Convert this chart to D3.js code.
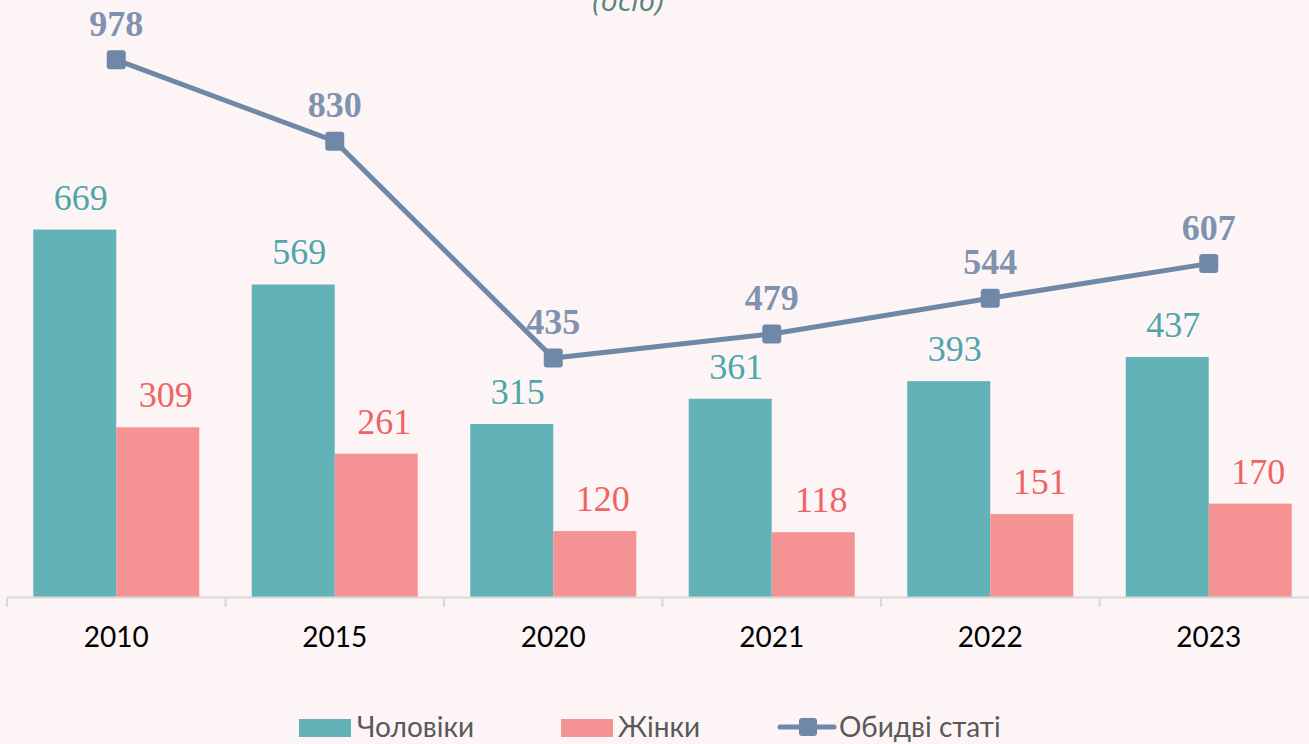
<!DOCTYPE html>
<html>
<head>
<meta charset="utf-8">
<script src="https://cdn.jsdelivr.net/npm/d3@7"></script>
<style>
  html, body { margin: 0; padding: 0; background: #fdf5f5; overflow: hidden; }
</style>
</head>
<body>
<div id="chart"></div>
<script>
// Data
var years = ["2010", "2015", "2020", "2021", "2022", "2023"];
var men = [669, 569, 315, 361, 393, 437];
var women = [309, 261, 120, 118, 151, 170];
var total = [978, 830, 435, 479, 544, 607];
var seriesNames = ["Чоловіки", "Жінки", "Обидві статі"];

var width = 1309, height = 744;
var baseY = 597;

var svg = d3.select("#chart")
  .append("svg")
    .attr("width", width)
    .attr("height", height)
    .style("background", "#fdf5f5");

// Scales
var x = d3.scaleBand()
  .domain(years)
  .range([7, 1318])
  .padding(0);

var x1 = d3.scaleBand()
  .domain(["men", "women"])
  .range([0, x.bandwidth()])
  .paddingInner(0)
  .paddingOuter(0.316);

var y = d3.scaleLinear()
  .domain([0, 1087])
  .range([baseY, 0]);

// Title (cut off at the top, as in the source)
svg.append("text")
  .attr("x", 628)
  .attr("y", 11)
  .attr("text-anchor", "middle")
  .attr("font-family", "Open Sans, sans-serif")
  .attr("font-style", "italic")
  .attr("font-size", "30px")
  .attr("fill", "#5b8283")
  .text("(осіб)");

// Bars
var groups = svg.selectAll("g.year")
  .data(years)
  .enter()
  .append("g")
    .attr("class", "year")
    .attr("transform", function(d) { return "translate(" + x(d) + ",0)"; });

groups.append("rect")
  .attr("x", x1("men"))
  .attr("y", function(d, i) { return y(men[i]); })
  .attr("width", x1.bandwidth())
  .attr("height", function(d, i) { return baseY - y(men[i]); })
  .attr("fill", "#63b2b8");

groups.append("rect")
  .attr("x", x1("women"))
  .attr("y", function(d, i) { return y(women[i]); })
  .attr("width", x1.bandwidth())
  .attr("height", function(d, i) { return baseY - y(women[i]); })
  .attr("fill", "#f59394");

// Bar labels
groups.append("text")
  .attr("x", x1("men") + x1.bandwidth() / 2 + 6)
  .attr("y", function(d, i) { return y(men[i]) - 20; })
  .attr("text-anchor", "middle")
  .attr("font-family", "Liberation Serif, serif")
  .attr("font-size", "36px")
  .attr("fill", "#4ea6ab")
  .text(function(d, i) { return men[i]; });

groups.append("text")
  .attr("x", x1("women") + x1.bandwidth() / 2 + 8)
  .attr("y", function(d, i) { return y(women[i]) - 20; })
  .attr("text-anchor", "middle")
  .attr("font-family", "Liberation Serif, serif")
  .attr("font-size", "36px")
  .attr("fill", "#ee6466")
  .text(function(d, i) { return women[i]; });

// X axis
svg.append("line")
  .attr("x1", 7).attr("x2", width)
  .attr("y1", baseY + 0.5).attr("y2", baseY + 0.5)
  .attr("stroke", "#d9d9d9")
  .attr("stroke-width", 2);

svg.selectAll("line.tick")
  .data(years.concat(["end"]))
  .enter()
  .append("line")
    .attr("class", "tick")
    .attr("x1", function(d) { return d === "end" ? 1318 : x(d); })
    .attr("x2", function(d) { return d === "end" ? 1318 : x(d); })
    .attr("y1", baseY)
    .attr("y2", baseY + 10)
    .attr("stroke", "#d9d9d9")
    .attr("stroke-width", 2);

var xAxis = svg.append("g")
  .attr("transform", "translate(0," + baseY + ")")
  .call(d3.axisBottom(x).tickSize(0).tickPadding(30));
xAxis.select(".domain").remove();
xAxis.selectAll("text")
  .attr("font-family", "Lato, sans-serif")
  .attr("font-size", "28px")
  .attr("fill", "#000");

// Line for total
var line = d3.line()
  .x(function(d, i) { return x(years[i]) + x.bandwidth() / 2; })
  .y(function(d) { return y(d); });

svg.append("path")
  .datum(total)
  .attr("d", line)
  .attr("fill", "none")
  .attr("stroke", "#7088a7")
  .attr("stroke-width", 5);

svg.selectAll("rect.marker")
  .data(total)
  .enter()
  .append("rect")
    .attr("class", "marker")
    .attr("x", function(d, i) { return x(years[i]) + x.bandwidth() / 2 - 9.5; })
    .attr("y", function(d) { return y(d) - 9.5; })
    .attr("width", 19)
    .attr("height", 19)
    .attr("rx", 3)
    .attr("fill", "#7088a7");

svg.selectAll("text.total")
  .data(total)
  .enter()
  .append("text")
    .attr("class", "total")
    .attr("x", function(d, i) { return x(years[i]) + x.bandwidth() / 2; })
    .attr("y", function(d) { return y(d) - 24; })
    .attr("text-anchor", "middle")
    .attr("font-family", "Liberation Serif, serif")
    .attr("font-weight", "bold")
    .attr("font-size", "36px")
    .attr("fill", "#7f93b0")
    .text(function(d) { return d; });

// Legend
var legend = svg.append("g");
var legendFont = "Lato, sans-serif";

legend.append("rect")
  .attr("x", 299).attr("y", 719).attr("width", 52).attr("height", 18)
  .attr("fill", "#63b2b8");
legend.append("text")
  .attr("x", 357).attr("y", 737)
  .attr("font-family", legendFont).attr("font-size", "28px").attr("fill", "#595959")
  .text(seriesNames[0]);

legend.append("rect")
  .attr("x", 561).attr("y", 719).attr("width", 52).attr("height", 18)
  .attr("fill", "#f59394");
legend.append("text")
  .attr("x", 618).attr("y", 737)
  .attr("font-family", legendFont).attr("font-size", "28px").attr("fill", "#595959")
  .text(seriesNames[1]);

legend.append("line")
  .attr("x1", 780).attr("x2", 834).attr("y1", 727).attr("y2", 727)
  .attr("stroke", "#7088a7").attr("stroke-width", 5)
  .attr("stroke-linecap", "round");
legend.append("rect")
  .attr("x", 799).attr("y", 718).attr("width", 18).attr("height", 18).attr("rx", 3)
  .attr("fill", "#7088a7");
legend.append("text")
  .attr("x", 839).attr("y", 737)
  .attr("font-family", legendFont).attr("font-size", "28px").attr("fill", "#595959")
  .text(seriesNames[2]);
</script>
</body>
</html>
